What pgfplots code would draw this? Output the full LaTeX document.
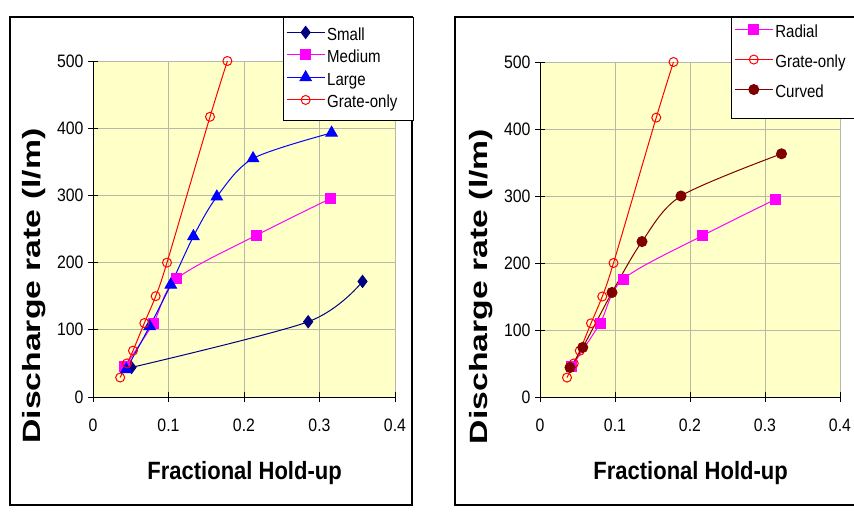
\documentclass[border=0pt]{standalone}
\usepackage{pgfplots}
\pgfplotsset{compat=1.18}
\usepackage{fontspec}
\setmainfont{Liberation Sans}
\newfontfamily\tickf[FakeStretch=0.88]{Liberation Sans}
\newfontfamily\xlabf[FakeStretch=0.88]{Liberation Sans}
\newfontfamily\ylabf[FakeStretch=1.35]{Liberation Sans}
\newfontfamily\legf[FakeStretch=0.86]{Liberation Sans}
\definecolor{plotbg}{HTML}{FFFFC8}
\definecolor{navyc}{HTML}{000080}
\definecolor{magc}{HTML}{FF00FF}
\definecolor{bluc}{HTML}{0000FF}
\definecolor{redc}{HTML}{FF0000}
\definecolor{maroonc}{HTML}{800000}
\definecolor{gridc}{HTML}{B8B8A8}

\pgfplotstableread{
x y
0.051 44
0.285 112
0.357 172
}\smalldata
\pgfplotstableread{
x y
0.042 45
0.080 110
0.111 176
0.217 241
0.314 295
}\mediumdata
\pgfplotstableread{
x y
0.044 41
0.075 105
0.103 167
0.133 239
0.164 298
0.212 355
0.316 393
}\largedata
\pgfplotstableread{
x y
0.036 29
0.045 50
0.053 69
0.068 110
0.083 150
0.098 200
0.155 417
0.178 500
}\grate
\pgfplotstableread{
x y
0.040 44
0.057 74
0.096 156
0.136 232
0.188 300
0.322 363
}\curved

\newcommand\lsl{\rule[-7pt]{0pt}{24pt}}

\pgfplotsset{
 panel/.style={
  scale only axis, clip=false,
  xmin=0,xmax=0.4,ymin=0,ymax=500,
  xtick={0,0.1,0.2,0.3,0.4}, ytick={0,100,200,300,400,500},
  xticklabels={0,0.1,0.2,0.3,0.4},
  grid=major, grid style={gridc, line width=0.8pt},
  axis background/.style={fill=plotbg},
  axis x line*=bottom, axis y line*=left,
  axis line style={-, black, line width=0.9pt},
  tick align=center, major tick length=10pt, tick style={black, line width=0.8pt},
  /pgf/number format/assume math mode=true,
  ticklabel style={font=\tickf\fontsize{18}{21}\selectfont},
  xticklabel style={yshift=-13pt},
  yticklabel style={xshift=-1pt},
  xlabel={Fractional Hold-up}, ylabel={Discharge rate (l/m)},
  xlabel style={font=\xlabf\bfseries\fontsize{25}{30}\selectfont, at={(axis description cs:0.502,-0.247)}, anchor=base},
  ylabel style={font=\ylabf\bfseries\fontsize{25}{30}\selectfont, at={(axis description cs:-0.195,0.33)}, anchor=center},
  legend style={font=\legf\fontsize{17.5}{20}\selectfont, draw=none, fill=none, anchor=north west, inner xsep=3pt, inner ysep=2pt},
  legend cell align=left,
  legend image code/.code={\draw[mark repeat=2,mark phase=2] plot coordinates {(0pt,0pt)(19pt,0pt)(38pt,0pt)};},
 },
 smallS/.style={color=navyc, line width=1pt, smooth, mark=diamond*, mark size=6pt, mark options={solid, fill=navyc}},
 medS/.style={color=magc, line width=1pt, smooth, mark=square*, mark size=5pt, mark options={solid, fill=magc}},
 largeS/.style={color=bluc, line width=1pt, smooth, mark=triangle*, mark size=6.5pt, mark options={solid, fill=bluc}},
 grateS/.style={color=redc, line width=1pt, smooth, mark=o, mark size=4.5pt, mark options={solid}},
 curvS/.style={color=maroonc, line width=1pt, smooth, mark=*, mark size=5pt, mark options={solid, fill=maroonc}},
}

\begin{document}
\begin{tikzpicture}
\path[use as bounding box] (0,0) rectangle (854pt,-518pt);
\draw[line width=1.2pt] (10pt,-17pt) rectangle (412pt,-505pt);
\draw[line width=1.2pt] (870pt,-17pt) -- (455pt,-17pt) -- (455pt,-505pt) -- (870pt,-505pt);

\begin{axis}[panel, width=302pt, height=336pt, at={(93pt,-397pt)}, anchor=south west,
  legend style={at={(axis description cs:0.629,1.125)}, row sep=0pt}]
\addplot[smallS] table[x=x,y=y] {\smalldata};
\addlegendentry{\lsl Small}
\addplot[medS] table[x=x,y=y] {\mediumdata};
\addlegendentry{\lsl Medium}
\addplot[largeS] table[x=x,y=y] {\largedata};
\addlegendentry{\lsl Large}
\addplot[grateS] table[x=x,y=y] {\grate};
\addlegendentry{\lsl Grate-only}
\filldraw[fill=white, draw=black, line width=0.9pt] (rel axis cs:0.629,1.131) rectangle (rel axis cs:1.0596,0.8244);
\end{axis}

\begin{axis}[panel, width=300pt, height=335pt, at={(540pt,-397pt)}, anchor=south west,
  legend style={at={(axis description cs:0.637,1.137)}, row sep=7.5pt}]
\addplot[medS] table[x=x,y=y] {\mediumdata};
\addlegendentry{\lsl Radial}
\addplot[grateS] table[x=x,y=y] {\grate};
\addlegendentry{\lsl Grate-only}
\addplot[curvS] table[x=x,y=y] {\curved};
\addlegendentry{\lsl Curved}
\filldraw[fill=white, draw=black, line width=0.9pt] (rel axis cs:0.637,1.134) rectangle (rel axis cs:1.2,0.830);
\end{axis}
\end{tikzpicture}
\end{document}
